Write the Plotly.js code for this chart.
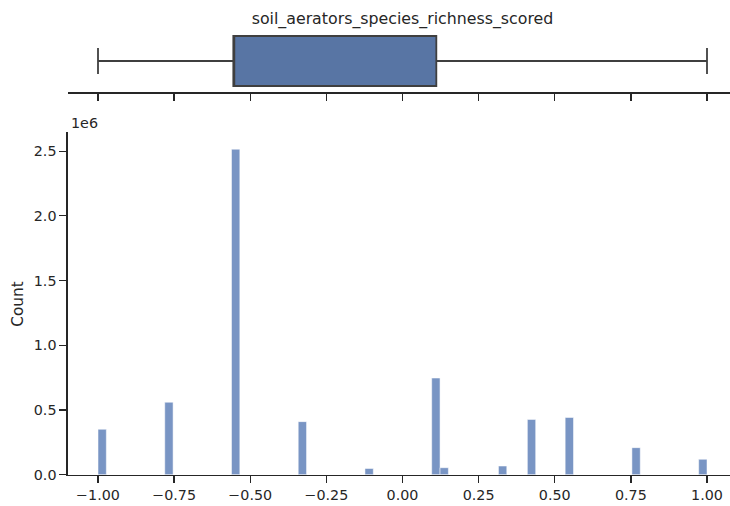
<!DOCTYPE html>
<html>
<head>
<meta charset="utf-8">
<script src="https://cdn.plot.ly/plotly-3.0.1.min.js"></script>
<style>html,body{margin:0;padding:0;background:#fff;}#chart{width:730px;height:506px;}</style>
</head>
<body>
<div id="chart"></div>
<script>
// Histogram bins (centres, data units) and counts
var binCenters = [-0.9863, -0.7671, -0.5479, -0.3288, -0.1096, 0.1096, 0.1370, 0.3288, 0.4237, 0.5479, 0.7671, 0.9863];
var binCounts  = [351000, 560000, 2515000, 410000, 48000, 747000, 54000, 67000, 427000, 442000, 209000, 119000];
var binWidth = 2 / 73;

// Box plot statistics
var boxLowerFence = [-1.0];
var boxQ1 = [-0.5556];
var boxMedian = [-0.5556];
var boxQ3 = [0.1111];
var boxUpperFence = [1.0];

// Tick labels
var xTickVals = [-1, -0.75, -0.5, -0.25, 0, 0.25, 0.5, 0.75, 1];
var xTickText = ["\u22121.00", "\u22120.75", "\u22120.50", "\u22120.25", "0.00", "0.25", "0.50", "0.75", "1.00"];
var yTickVals = [0, 500000, 1000000, 1500000, 2000000, 2500000];
var yTickText = ["0.0", "0.5", "1.0", "1.5", "2.0", "2.5"];

var titleText = "soil_aerators_species_richness_scored";

var W = 730, H = 506;
var ink = "#262626";
var font = {family: "DejaVu Sans, sans-serif", size: 14.3, color: ink};

var xLeftPx = 67.6;
var pxPerUnit = 304.5;
var zeroPx = 402.5;
var xRange = [(xLeftPx - zeroPx) / pxPerUnit, (W - zeroPx) / pxPerUnit];

var histTop = 132, histBottom = 474.7;
var boxTop = 29.75, boxBottom = 92.25;

var bars = {
  type: "bar",
  x: binCenters,
  y: binCounts,
  width: binCenters.map(function(){ return binWidth; }),
  marker: {color: "rgba(76,114,176,0.75)", line: {color: "rgba(255,255,255,0.85)", width: 0.6}},
  xaxis: "x", yaxis: "y",
  hoverinfo: "x+y"
};

var box = {
  type: "box",
  orientation: "h",
  y: [0],
  lowerfence: boxLowerFence,
  q1: boxQ1,
  median: boxMedian,
  q3: boxQ3,
  upperfence: boxUpperFence,
  width: 0.8,
  whiskerwidth: 0.52,
  fillcolor: "#5875a4",
  line: {color: "#3f3f3f", width: 1.8},
  boxpoints: false,
  xaxis: "x2", yaxis: "y2"
};

var axisCommon = {
  showgrid: false, zeroline: false, showline: true,
  linecolor: ink, linewidth: 1.25,
  ticks: "outside", ticklen: 7, tickwidth: 1.25, tickcolor: ink,
  tickfont: font
};

var layout = {
  width: W, height: H,
  margin: {l: 0, r: 0, t: 0, b: 0},
  paper_bgcolor: "#ffffff",
  plot_bgcolor: "#ffffff",
  showlegend: false,
  font: font,
  bargap: 0,
  title: {
    text: titleText,
    font: {family: "DejaVu Sans, sans-serif", size: 15.8, color: ink},
    xref: "container", yref: "container",
    x: zeroPx / W, xanchor: "center",
    y: 1 - 18.5 / H, yanchor: "middle"
  },
  xaxis: Object.assign({}, axisCommon, {
    domain: [xLeftPx / W, 1],
    range: xRange,
    tickmode: "array", tickvals: xTickVals, ticktext: xTickText,
    anchor: "y"
  }),
  yaxis: Object.assign({}, axisCommon, {
    domain: [1 - histBottom / H, 1 - histTop / H],
    range: [0, 2648000],
    tickmode: "array", tickvals: yTickVals, ticktext: yTickText,
    anchor: "x"
  }),
  xaxis2: Object.assign({}, axisCommon, {
    domain: [xLeftPx / W, 1],
    range: xRange,
    tickmode: "array", tickvals: xTickVals,
    showticklabels: false,
    anchor: "y2"
  }),
  yaxis2: {
    domain: [1 - boxBottom / H, 1 - boxTop / H],
    range: [-0.5, 0.5],
    visible: false,
    anchor: "x2"
  },
  annotations: [
    {text: "1e6", xref: "paper", yref: "paper", x: 69 / W, y: 1 - 123 / H,
     xanchor: "left", yanchor: "middle", showarrow: false, font: font},
    {text: "Count", xref: "paper", yref: "paper", x: 18 / W, y: 1 - 304.8 / H,
     xanchor: "center", yanchor: "middle", textangle: -90, showarrow: false,
     font: {family: "DejaVu Sans, sans-serif", size: 15.3, color: ink}}
  ]
};

Plotly.newPlot("chart", [bars, box], layout, {staticPlot: true, displayModeBar: false});
</script>
</body>
</html>
